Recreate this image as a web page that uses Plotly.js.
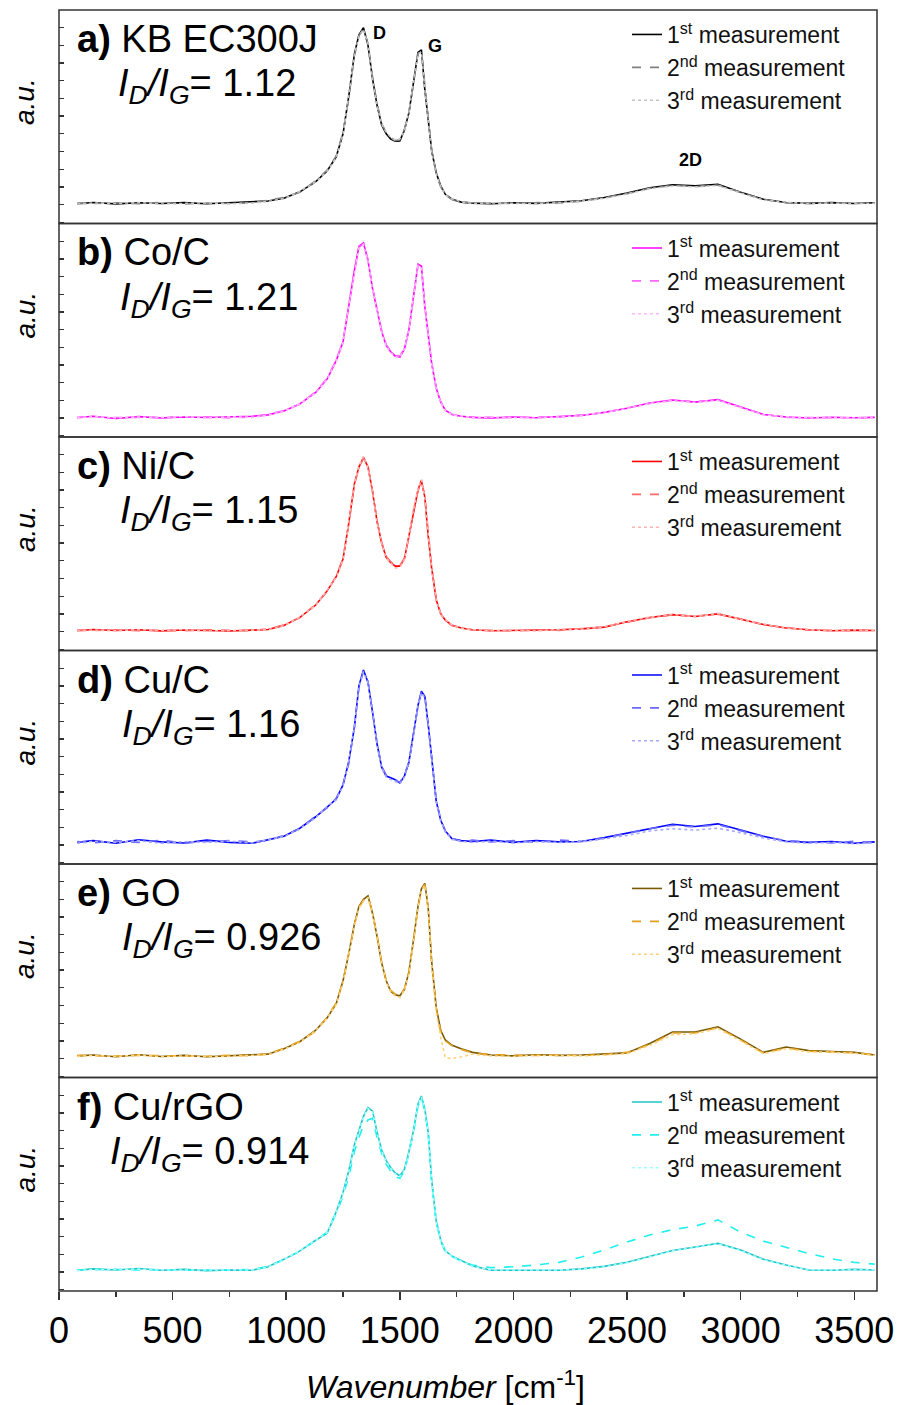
<!DOCTYPE html>
<html>
<head>
<meta charset="utf-8">
<script src="https://cdn.plot.ly/plotly-3.0.1.min.js"></script>
<style>html,body{margin:0;padding:0;background:#fff;}#chart{width:901px;height:1405px;}</style>
</head>
<body>
<div id="chart"></div>
<script>
// Wavenumber grid (cm-1)
const wavenumber = [80,150,250,350,450,550,650,750,850,920,990,1060,1130,1180,1220,1250,1275,1300,1320,1340,1360,1380,1400,1420,1440,1460,1480,1500,1520,1540,1560,1580,1595,1610,1625,1640,1660,1680,1700,1730,1770,1820,1900,2000,2100,2200,2300,2400,2500,2600,2700,2800,2900,3000,3100,3200,3300,3400,3500,3590];

const sampleNames = ["KB EC300J","Co/C","Ni/C","Cu/C","GO","Cu/rGO"];
const panelLetters = ["a)","b)","c)","d)","e)","f)"];
const ratioValues = ["1.12","1.21","1.15","1.16","0.926","0.914"];
const measurementNames = ["1<sup>st</sup> measurement","2<sup>nd</sup> measurement","3<sup>rd</sup> measurement"];

// a) KB EC300J
const kb_m1 = [0.05,0.12,0.04,0.10,0.06,0.11,0.05,0.09,0.13,0.20,
 0.36,0.72,1.30,1.90,2.70,4.00,6.10,8.50,9.60,10.0,
 9.00,7.10,5.60,4.50,4.00,3.70,3.58,3.60,4.20,5.20,
 6.90,8.60,8.75,6.50,4.80,3.05,1.80,1.05,0.58,0.30,
 0.14,0.08,0.05,0.10,0.07,0.13,0.22,0.40,0.65,0.95,
 1.12,1.06,1.15,0.70,0.30,0.12,0.07,0.11,0.06,0.10];
const kb_m2 = [0.08,0.06,0.10,0.05,0.12,0.04,0.09,0.06,0.10,0.24,
 0.40,0.70,1.35,1.95,2.75,4.10,6.00,8.40,9.55,9.95,
 9.10,7.20,5.70,4.60,4.05,3.78,3.62,3.66,4.25,5.15,
 6.80,8.55,8.70,6.60,4.85,3.10,1.78,1.00,0.55,0.28,
 0.12,0.10,0.08,0.06,0.11,0.09,0.20,0.38,0.62,0.92,
 1.08,1.02,1.10,0.68,0.28,0.10,0.10,0.06,0.09,0.07];
const kb_m3 = [0.03,0.09,0.07,0.12,0.03,0.08,0.10,0.05,0.08,0.18,
 0.34,0.75,1.28,1.88,2.65,3.95,6.15,8.45,9.50,9.90,
 9.05,7.00,5.55,4.55,4.10,3.80,3.65,3.70,4.15,5.25,
 6.95,8.50,8.65,6.45,4.75,3.00,1.75,1.02,0.56,0.32,
 0.16,0.06,0.09,0.08,0.05,0.11,0.19,0.36,0.60,0.90,
 1.05,1.00,1.08,0.66,0.26,0.14,0.05,0.09,0.04,0.08];

// b) Co/C
const co_m1 = [0.02,0.10,-0.02,0.08,0.00,0.06,0.03,0.05,0.10,0.18,
 0.40,0.80,1.45,2.20,3.25,4.30,6.40,8.35,9.70,9.90,
 8.90,7.30,6.10,4.90,4.10,3.75,3.50,3.45,3.90,5.00,
 6.85,8.70,8.60,6.30,4.70,3.10,1.70,0.90,0.45,0.20,
 0.10,0.04,0.00,0.06,0.02,0.08,0.15,0.32,0.55,0.85,
 1.02,0.90,1.04,0.62,0.20,0.06,0.00,0.05,0.02,0.04];
const co_m2 = [0.05,0.06,0.03,0.04,0.05,0.02,0.07,0.01,0.06,0.20,
 0.42,0.78,1.50,2.25,3.30,4.35,6.35,8.30,9.65,9.85,
 8.95,7.35,6.15,4.95,4.15,3.80,3.55,3.50,3.95,4.95,
 6.80,8.65,8.55,6.35,4.75,3.15,1.72,0.92,0.47,0.22,
 0.08,0.06,0.03,0.02,0.06,0.05,0.17,0.30,0.57,0.83,
 1.00,0.93,1.02,0.60,0.22,0.04,0.03,0.02,0.05,0.01];
const co_m3 = [0.00,0.08,0.02,0.06,0.03,0.09,0.00,0.07,0.04,0.16,
 0.38,0.82,1.42,2.18,3.20,4.25,6.30,8.25,9.60,9.80,
 8.85,7.25,6.05,4.85,4.05,3.70,3.48,3.42,3.88,5.05,
 6.90,8.60,8.50,6.25,4.65,3.05,1.68,0.88,0.43,0.18,
 0.12,0.02,0.05,0.04,0.00,0.07,0.13,0.34,0.53,0.82,
 0.98,0.88,1.00,0.58,0.18,0.08,0.02,0.06,0.00,0.03];

// c) Ni/C
const ni_m1 = [0.05,0.12,0.06,0.10,0.04,0.09,0.06,0.03,0.08,0.12,
 0.35,0.80,1.50,2.30,3.10,4.10,6.10,8.35,9.30,9.85,
 9.30,7.90,6.20,5.00,4.20,3.90,3.70,3.70,4.10,5.40,
 6.90,8.00,8.55,7.60,5.40,3.60,1.80,1.00,0.65,0.35,
 0.20,0.10,0.05,0.07,0.05,0.10,0.15,0.25,0.55,0.80,
 0.96,0.85,1.00,0.70,0.40,0.20,0.10,0.05,0.08,0.06];
const ni_m2 = [0.08,0.06,0.10,0.05,0.08,0.04,0.10,0.06,0.05,0.15,
 0.38,0.78,1.55,2.25,3.15,4.15,6.05,8.30,9.25,9.80,
 9.35,7.95,6.25,5.05,4.25,3.95,3.75,3.72,4.15,5.35,
 6.85,7.95,8.50,7.65,5.45,3.65,1.85,1.02,0.62,0.33,
 0.22,0.08,0.07,0.04,0.08,0.07,0.17,0.28,0.52,0.78,
 0.94,0.88,0.98,0.72,0.38,0.22,0.08,0.07,0.05,0.09];
const ni_m3 = [0.03,0.09,0.04,0.12,0.06,0.11,0.03,0.07,0.10,0.10,
 0.33,0.82,1.48,2.32,3.05,4.05,6.15,8.40,9.35,9.90,
 9.25,7.85,6.15,4.95,4.15,3.85,3.60,3.62,4.05,5.45,
 6.95,8.05,8.60,7.55,5.35,3.55,1.78,0.98,0.68,0.37,
 0.18,0.12,0.03,0.09,0.03,0.12,0.13,0.27,0.57,0.82,
 0.98,0.83,1.03,0.68,0.42,0.18,0.12,0.03,0.10,0.04];

// d) Cu/C
const cu_m1 = [0.15,0.25,0.10,0.30,0.18,0.12,0.28,0.15,0.10,0.30,
 0.50,0.95,1.60,2.15,2.60,3.40,4.70,6.65,9.00,9.90,
 9.20,7.50,5.70,4.40,3.90,3.80,3.70,3.50,3.90,4.70,
 6.20,7.90,8.70,8.40,6.80,5.00,2.50,1.40,0.80,0.35,
 0.25,0.20,0.28,0.15,0.25,0.18,0.20,0.42,0.68,0.95,
 1.18,1.05,1.20,0.85,0.50,0.22,0.15,0.20,0.10,0.18];
const cu_m2 = [0.20,0.12,0.25,0.15,0.28,0.10,0.20,0.25,0.18,0.25,
 0.55,0.90,1.65,2.10,2.65,3.45,4.60,6.70,8.90,9.85,
 9.25,7.45,5.75,4.45,3.95,3.75,3.65,3.55,3.95,4.65,
 6.25,7.85,8.65,8.45,6.75,5.05,2.55,1.45,0.78,0.38,
 0.20,0.28,0.18,0.25,0.15,0.28,0.22,0.40,0.65,0.92,
 1.12,1.02,1.15,0.82,0.48,0.25,0.20,0.12,0.22,0.12];
const cu_m3 = [0.10,0.22,0.15,0.25,0.10,0.20,0.15,0.22,0.12,0.28,
 0.48,0.92,1.55,2.20,2.55,3.35,4.75,6.60,8.95,9.80,
 9.15,7.55,5.65,4.35,3.85,3.70,3.60,3.45,3.85,4.75,
 6.15,7.95,8.60,8.35,6.85,4.95,2.45,1.38,0.75,0.32,
 0.22,0.15,0.22,0.12,0.20,0.15,0.18,0.35,0.55,0.80,
 0.92,0.85,0.95,0.70,0.40,0.18,0.10,0.15,0.08,0.12];

// e) GO
const go_m1 = [0.15,0.20,0.10,0.22,0.12,0.18,0.10,0.15,0.20,0.25,
 0.55,0.95,1.60,2.30,3.10,4.40,5.90,7.60,8.60,9.00,
 9.20,8.20,6.90,5.40,4.40,3.80,3.60,3.55,3.90,4.90,
 6.70,8.60,9.60,9.90,8.50,5.50,2.90,1.60,1.05,0.75,
 0.55,0.35,0.20,0.15,0.22,0.18,0.20,0.25,0.32,0.85,
 1.50,1.50,1.80,1.10,0.35,0.65,0.45,0.40,0.35,0.20];
const go_m2 = [0.18,0.15,0.14,0.18,0.16,0.14,0.13,0.19,0.16,0.28,
 0.58,0.98,1.55,2.35,3.15,4.35,5.95,7.55,8.55,8.95,
 9.15,8.25,6.95,5.45,4.45,3.85,3.65,3.50,3.95,4.85,
 6.65,8.55,9.55,9.85,8.45,5.45,2.85,1.55,1.00,0.72,
 0.52,0.32,0.22,0.18,0.18,0.20,0.17,0.22,0.35,0.80,
 1.45,1.45,1.75,1.05,0.32,0.60,0.42,0.38,0.32,0.22];
const go_m3 = [0.12,0.18,0.12,0.20,0.10,0.15,0.12,0.12,0.18,0.22,
 0.52,0.92,1.58,2.28,3.05,4.30,5.85,7.50,8.50,8.90,
 9.10,8.15,6.85,5.35,4.35,3.75,3.55,3.45,3.85,4.80,
 6.60,8.50,9.50,9.80,8.40,5.40,2.60,1.20,0.05,0.00,
 0.10,0.25,0.15,0.12,0.18,0.15,0.15,0.20,0.28,0.75,
 1.35,1.40,1.70,1.00,0.28,0.55,0.38,0.35,0.30,0.18];

// f) Cu/rGO
const rgo_m1 = [0.10,0.18,0.12,0.20,0.10,0.15,0.08,0.12,0.10,0.30,
 0.72,1.20,1.80,2.20,3.40,4.50,5.70,7.20,8.00,8.80,
 9.30,9.10,7.90,6.90,6.30,5.90,5.60,5.45,5.80,6.80,
 8.00,9.50,9.95,9.20,7.90,5.20,2.90,1.80,1.20,0.90,
 0.65,0.35,0.10,0.10,0.12,0.10,0.18,0.32,0.55,0.88,
 1.22,1.42,1.62,1.25,0.72,0.40,0.12,0.10,0.15,0.12];
const rgo_m2 = [0.12,0.15,0.16,0.12,0.14,0.10,0.12,0.10,0.14,0.32,
 0.70,1.18,1.78,2.25,3.30,4.30,5.40,6.80,7.60,8.30,
 8.60,8.70,7.60,6.70,6.10,5.70,5.40,5.30,5.70,6.70,
 7.90,9.40,9.85,9.10,7.80,5.10,2.85,1.75,1.15,0.88,
 0.62,0.40,0.25,0.30,0.40,0.55,0.85,1.25,1.70,2.10,
 2.40,2.60,2.95,2.25,1.75,1.40,1.05,0.75,0.55,0.45];
const rgo_m3 = [0.08,0.15,0.14,0.17,0.12,0.13,0.10,0.14,0.12,0.28,
 0.70,1.22,1.78,2.22,3.35,4.45,5.65,7.15,7.95,8.75,
 9.25,9.05,7.85,6.85,6.25,5.85,5.55,5.40,5.75,6.75,
 7.95,9.45,9.90,9.15,7.85,5.15,2.85,1.78,1.18,0.88,
 0.62,0.33,0.12,0.12,0.10,0.12,0.16,0.30,0.52,0.85,
 1.20,1.40,1.60,1.22,0.70,0.38,0.14,0.12,0.13,0.14];

const panelSeries = [
  [kb_m1, kb_m2, kb_m3],
  [co_m1, co_m2, co_m3],
  [ni_m1, ni_m2, ni_m3],
  [cu_m1, cu_m2, cu_m3],
  [go_m1, go_m2, go_m3],
  [rgo_m1, rgo_m2, rgo_m3]
];
const panelColors = [
  ["#000000", "#808080", "#c4c4c4"],
  ["#ff00ff", "#ff66ff", "#ffb8ff"],
  ["#ff0000", "#ff6a6a", "#ffb4b4"],
  ["#0000ff", "#6a6aff", "#a8a8ff"],
  ["#7a5a00", "#e0a020", "#ffd27a"],
  ["#1fc4c4", "#22f0f0", "#a0ffff"]
];
const dashes = ["solid", "dash", "dot"];
const ratioLeftPx = [118, 120, 120, 122, 122, 110];

const FONT = "Arial, 'Liberation Sans', sans-serif";
const W = 901, H = 1405;
const mL = 59, mR = 24, mT = 10, mB = 114;
const plotW = W - mL - mR, plotH = H - mT - mB;
const nP = 6;
const pH = plotH / nP;

function pxX(px) { return (px - mL) / plotW; }
function pxY(py) { return (H - mB - py) / plotH; }

const traces = [];
const layout = {
  width: W, height: H,
  margin: {l: mL, r: mR, t: mT, b: mB, pad: 0},
  paper_bgcolor: "#ffffff", plot_bgcolor: "#ffffff",
  font: {family: FONT, color: "#000"},
  xaxis: {
    domain: [0, 1], range: [0, 3600], anchor: "y6",
    showgrid: false, zeroline: false, showline: false,
    ticks: "outside", ticklen: 8, tickwidth: 1.5, tickcolor: "#333",
    dtick: 500, tick0: 0,
    tickfont: {family: FONT, size: 36, color: "#000"},
    minor: {dtick: 250, ticks: "outside", ticklen: 5, tickwidth: 1.5, tickcolor: "#333", showgrid: false}
  },
  shapes: [],
  annotations: [],
  showlegend: true
};

for (let p = 0; p < nP; p++) {
  const yid = p === 0 ? "y" : "y" + (p + 1);
  const yKey = p === 0 ? "yaxis" : "yaxis" + (p + 1);
  const lid = p === 0 ? "legend" : "legend" + (p + 1);
  const top = 1 - p / nP, bot = 1 - (p + 1) / nP;
  layout[yKey] = {
    domain: [bot, top], range: [-1.07, 11.0], anchor: "x",
    showgrid: false, zeroline: false, showline: false,
    showticklabels: false, ticks: "inside", ticklen: 5, tickwidth: 1.3, tickcolor: "#333",
    dtick: 1, tick0: 0
  };
  const panelTopPx = mT + p * pH;
  layout[lid] = {
    x: pxX(627), xanchor: "left",
    y: pxY(panelTopPx + 3), yanchor: "top",
    bgcolor: "rgba(0,0,0,0)", borderwidth: 0,
    font: {family: FONT, size: 23, color: "#111"},
    tracegroupgap: 0, traceorder: "normal"
  };
  for (let m = 0; m < 3; m++) {
    traces.push({
      type: "scatter", mode: "lines",
      x: wavenumber, y: panelSeries[p][m],
      xaxis: "x", yaxis: yid, legend: lid,
      name: measurementNames[m],
      line: {color: panelColors[p][m], width: 1.6, dash: dashes[m]},
      hoverinfo: "skip"
    });
  }
  layout.shapes.push({
    type: "rect", xref: "paper", yref: "paper",
    x0: 0, x1: 1, y0: bot, y1: top,
    line: {color: "#333", width: 1.5}, fillcolor: "rgba(0,0,0,0)", layer: "above"
  });
  layout.annotations.push({
    xref: "paper", yref: "paper", x: pxX(75), y: pxY(panelTopPx + 29),
    xanchor: "left", yanchor: "middle", showarrow: false,
    text: "<b>" + panelLetters[p] + "</b> " + sampleNames[p],
    font: {family: FONT, size: 38, color: "#000"}
  });
  layout.annotations.push({
    xref: "paper", yref: "paper", x: pxX(ratioLeftPx[p] - 2), y: pxY(panelTopPx + 76),
    xanchor: "left", yanchor: "middle", showarrow: false,
    text: "<i>I</i><sub><i>D</i></sub><i>/I</i><sub><i>G</i></sub>= " + ratioValues[p],
    font: {family: FONT, size: 38, color: "#000"}
  });
  layout.annotations.push({
    xref: "paper", yref: "paper", x: pxX(25), y: pxY(panelTopPx + 92),
    xanchor: "center", yanchor: "middle", showarrow: false, textangle: -90,
    text: "<i>a.u.</i>",
    font: {family: FONT, size: 28, color: "#000"}
  });
}

// Peak labels in panel a
const peakLabels = ["D", "G", "2D"];
const peakX = [1410, 1655, 2780];
const peakY = [9.7, 8.95, 2.5];
for (let i = 0; i < peakLabels.length; i++) {
  layout.annotations.push({
    xref: "x", yref: "y", x: peakX[i], y: peakY[i],
    xanchor: "center", yanchor: "middle", showarrow: false,
    text: "<b>" + peakLabels[i] + "</b>",
    font: {family: FONT, size: 18, color: "#000"}
  });
}

// x axis title
layout.annotations.push({
  xref: "paper", yref: "paper", x: pxX(445), y: pxY(1385),
  xanchor: "center", yanchor: "middle", showarrow: false,
  text: "<i>Wavenumber</i> [cm<sup>-1</sup>]",
  font: {family: FONT, size: 32, color: "#000"}
});

Plotly.newPlot("chart", traces, layout, {displayModeBar: false, staticPlot: true});
</script>
</body>
</html>
